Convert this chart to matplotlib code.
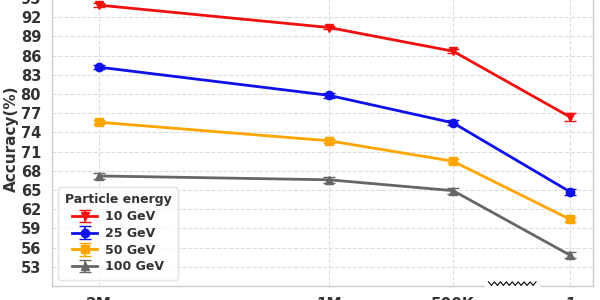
import matplotlib
matplotlib.use("Agg")
import matplotlib.pyplot as plt

# Data
samples = ['2M', '1M', '500K', '1']
energies = ['10 GeV', '25 GeV', '50 GeV', '100 GeV']
acc_10 = [93.9, 90.4, 86.7, 76.4]
acc_25 = [84.2, 79.8, 75.5, 64.7]
acc_50 = [75.6, 72.7, 69.5, 60.4]
acc_100 = [67.2, 66.6, 64.9, 54.8]
err_10 = [0.3, 0.3, 0.35, 0.6]
err_25 = [0.3, 0.35, 0.4, 0.45]
err_50 = [0.3, 0.3, 0.35, 0.35]
err_100 = [0.5, 0.5, 0.45, 0.45]

# layout: broken x axis, so positions are not evenly spaced
xpos = [0, 1, 1.54, 2.05]
colors = ['#f01010', '#1010e8', '#ffa500', '#666666']
markers = ['v', 'o', 's', '^']

plt.rcParams['font.family'] = 'DejaVu Sans'
plt.rcParams['font.weight'] = 'bold'
plt.rcParams['text.color'] = '#333333'
plt.rcParams['axes.labelcolor'] = '#333333'
plt.rcParams['xtick.color'] = '#333333'
plt.rcParams['ytick.color'] = '#333333'

fig = plt.figure(figsize=(6, 3), dpi=100)
ax = fig.add_axes([0.087, 0.0467, 0.901, 0.981])

series = [acc_10, acc_25, acc_50, acc_100]
errors = [err_10, err_25, err_50, err_100]
for vals, errs, lab, c, m in zip(series, errors, energies, colors, markers):
    ax.errorbar(xpos, vals, yerr=errs, label=lab, color=c, marker=m,
                markersize=6, linewidth=2, capsize=4, elinewidth=1.2)

ax.set_xlim(-0.204, 2.148)
ax.set_ylim(50, 96)
ax.set_yticks(range(53, 96, 3))
ax.set_xticks(xpos)
ax.set_xticklabels(samples, fontsize=11, fontweight='bold')
ax.tick_params(axis='y', labelsize=10.5, length=0, pad=8)
ax.tick_params(axis='x', length=0, pad=8)
for lbl in ax.get_yticklabels():
    lbl.set_fontweight('bold')
ax.set_ylabel('Accuracy(%)', fontsize=11, fontweight='bold', labelpad=1)

ax.grid(True, linestyle='--', color='#dddddd', linewidth=0.8)
ax.set_axisbelow(True)
for s in ax.spines.values():
    s.set_color('#cccccc')
    s.set_linewidth(1)

# zigzag marking the axis break
zx = [0.807 + i * 0.0055 for i in range(17)]
zy = [0.006 if i % 2 == 0 else -0.006 for i in range(17)]
ax.plot([0.805, 0.899], [0, 0], transform=ax.transAxes, color='white',
        linewidth=3, clip_on=False, zorder=5)
ax.plot(zx, [y + 0.008 for y in zy], transform=ax.transAxes, color='black',
        linewidth=0.8, clip_on=False, zorder=6)

leg = ax.legend(title='Particle energy', loc='lower left', fontsize=9,
                title_fontproperties={'weight': 'bold', 'size': 9},
                frameon=True, borderpad=0.5, labelspacing=0.3,
                handlelength=2.0, handletextpad=0.6,
                bbox_to_anchor=(0.0, 0.0))
leg.get_frame().set_edgecolor('#dddddd')
for t in leg.get_texts():
    t.set_fontweight('bold')

fig.savefig('out.png', dpi=100)
